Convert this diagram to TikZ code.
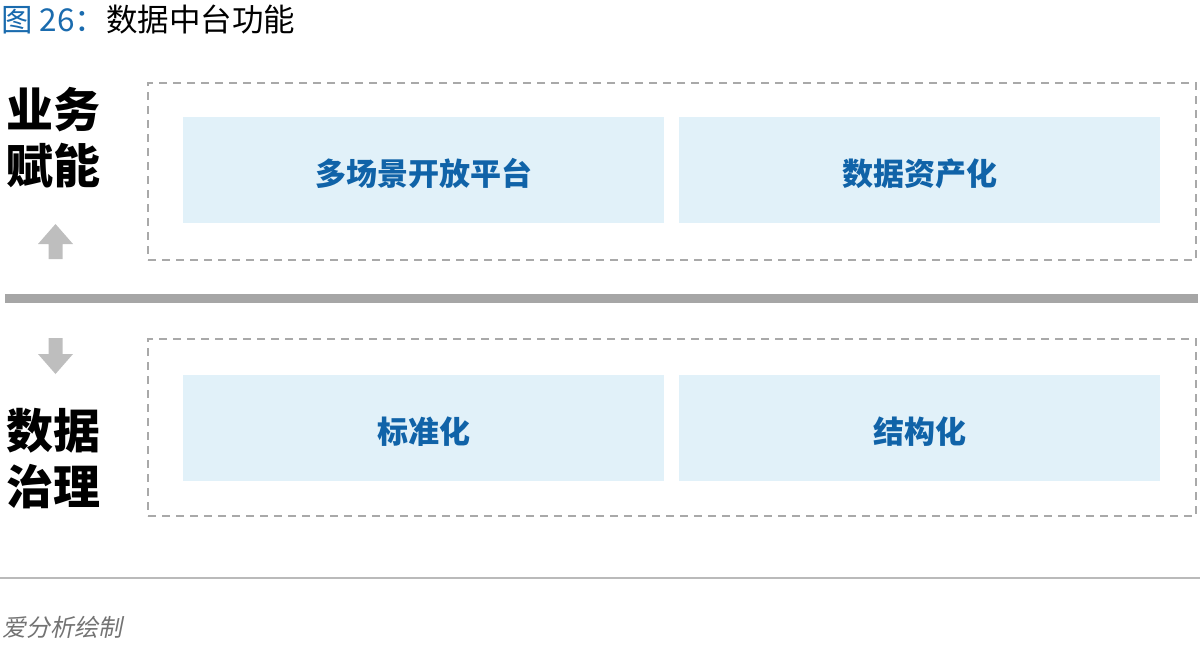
\documentclass[tikz,border=0pt]{standalone}
\usepackage{fontspec}
\setmainfont{Noto Sans CJK SC}
\newfontfamily\cjkslant[FakeSlant=0.2]{Noto Sans CJK SC}
\definecolor{titleblue}{HTML}{1A6BAE}
\definecolor{textblue}{HTML}{1063A8}
\definecolor{boxfill}{HTML}{E1F1F9}
\definecolor{dashgray}{HTML}{A9A9A9}
\definecolor{bargray}{HTML}{A6A6A6}
\definecolor{arrowgray}{HTML}{BEBEBE}

\begin{document}
\begin{tikzpicture}[x=1pt,y=-1pt,
    layerbox/.style={draw=dashgray, line width=1.8pt, dash pattern=on 8pt off 6pt, minimum width=1048pt, minimum height=177pt, inner sep=0pt},
    funcbox/.style={fill=boxfill, minimum width=481pt, minimum height=106pt, inner sep=0pt, text height=30pt, text depth=0pt, text=textblue, font=\fontsize{31}{31}\selectfont\bfseries},
    sidelabel/.style={align=center, inner sep=0pt, font=\fontsize{47}{56}\selectfont\bfseries}]
    \useasboundingbox (0,0) rectangle (1200,646);

    % Define anchor points for the side arrows
    \coordinate (up) at (55.5,224);
    \coordinate (down) at (55.5,374);

    % Title
    \node[anchor=base west, inner sep=0pt, font=\fontsize{31.5}{31.5}\selectfont] (title) at (1,31)
        {\textcolor{titleblue}{图 26：}数据中台功能};

    % Upper layer: business enablement
    \node[layerbox] (upper) at (672,171.5) {};
    \node[funcbox] (scene) at (423.5,170) {多场景开放平台};
    \node[funcbox] (asset) at (919.5,170) {数据资产化};
    \node[sidelabel] (enable) at (53,137.5) {业务\\赋能};

    % Separator bar
    \coordinate (barl) at (5,298);
    \coordinate (barr) at (1198,298);
    \draw[bargray, line width=9pt] (barl) -- (barr);

    % Lower layer: data governance
    \node[layerbox] (lower) at (672,427.5) {};
    \node[funcbox] (standard) at (423.5,428) {标准化};
    \node[funcbox] (struct) at (919.5,428) {结构化};
    \node[sidelabel] (govern) at (53,459) {数据\\治理};

    % Draw the up and down arrows
    \fill[arrowgray] (up) -- ++(17.5,20) -- ++(-10.5,0) -- ++(0,15) -- ++(-14,0) -- ++(0,-15) -- ++(-10.5,0) -- cycle;
    \fill[arrowgray] (down) -- ++(17.5,-20) -- ++(-10.5,0) -- ++(0,-16) -- ++(-14,0) -- ++(0,16) -- ++(-10.5,0) -- cycle;

    % Footer rule and source
    \coordinate (footl) at (0,578);
    \coordinate (footr) at (1200,578);
    \draw[black!27, line width=1.5pt] (footl) -- (footr);
    \node[anchor=base west, inner sep=0pt, text=black!55, font=\fontsize{24}{24}\selectfont\cjkslant] (source) at (2,636) {爱分析绘制};
\end{tikzpicture}
\end{document}
